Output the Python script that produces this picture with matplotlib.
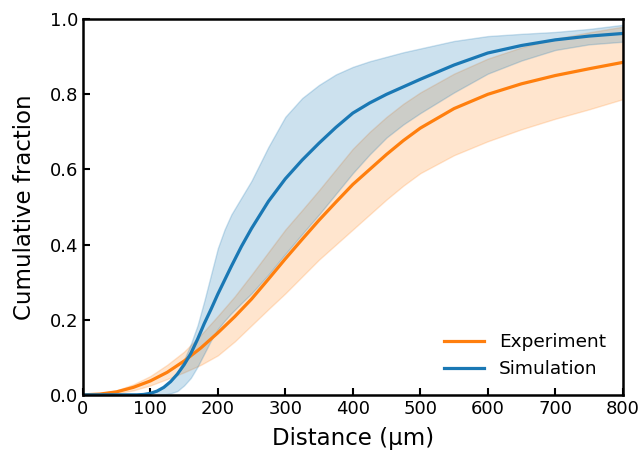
import numpy as np
import matplotlib.pyplot as plt

# Experiment curve and band
exp_x = [0, 25, 50, 75, 100, 125, 150, 175, 200, 225, 250, 275, 300, 325, 350, 375, 400, 425, 450, 475, 500, 550, 600, 650, 700, 750, 800]
exp_y = [0, 0.002, 0.008, 0.02, 0.037, 0.06, 0.09, 0.125, 0.165, 0.208, 0.255, 0.308, 0.362, 0.414, 0.465, 0.513, 0.56, 0.60, 0.64, 0.677, 0.71, 0.762, 0.80, 0.828, 0.85, 0.868, 0.885]
exp_hi = [0, 0.004, 0.012, 0.028, 0.05, 0.08, 0.115, 0.16, 0.21, 0.262, 0.32, 0.38, 0.44, 0.492, 0.545, 0.60, 0.655, 0.70, 0.74, 0.775, 0.805, 0.855, 0.895, 0.925, 0.948, 0.965, 0.98]
exp_lo = [0, 0.001, 0.004, 0.012, 0.025, 0.042, 0.06, 0.08, 0.105, 0.142, 0.185, 0.228, 0.27, 0.315, 0.36, 0.40, 0.44, 0.48, 0.52, 0.557, 0.59, 0.638, 0.675, 0.707, 0.735, 0.76, 0.787]

# Simulation curve and band
sim_x = [0, 80, 90, 100, 110, 120, 130, 140, 150, 160, 170, 180, 190, 200, 210, 220, 235, 250, 275, 300, 325, 350, 375, 400, 425, 450, 475, 500, 550, 600, 650, 700, 750, 800]
sim_y = [0, 0, 0.001, 0.004, 0.01, 0.02, 0.035, 0.055, 0.08, 0.11, 0.148, 0.19, 0.228, 0.268, 0.305, 0.342, 0.395, 0.443, 0.515, 0.575, 0.625, 0.67, 0.712, 0.75, 0.777, 0.80, 0.82, 0.84, 0.878, 0.91, 0.93, 0.945, 0.955, 0.962]
sim_hi = [0, 0, 0.001, 0.004, 0.01, 0.02, 0.036, 0.06, 0.093, 0.135, 0.185, 0.25, 0.32, 0.39, 0.44, 0.48, 0.525, 0.57, 0.66, 0.74, 0.79, 0.825, 0.853, 0.873, 0.888, 0.90, 0.912, 0.922, 0.942, 0.955, 0.961, 0.966, 0.974, 0.985]
sim_lo = [0, 0, 0, 0, 0, 0.001, 0.004, 0.01, 0.025, 0.045, 0.075, 0.11, 0.145, 0.175, 0.197, 0.217, 0.244, 0.27, 0.32, 0.375, 0.428, 0.48, 0.535, 0.59, 0.64, 0.685, 0.72, 0.75, 0.805, 0.855, 0.89, 0.918, 0.933, 0.94]

orange = '#ff7f0e'
blue = '#1a78b4'

fig = plt.figure(figsize=(6.42, 4.57), dpi=100)
ax = fig.add_axes([0.129, 0.136, 0.841, 0.822])

ax.fill_between(exp_x, exp_lo, exp_hi, color=orange, alpha=0.2, linewidth=1)
ax.fill_between(sim_x, sim_lo, sim_hi, color=blue, alpha=0.22, linewidth=1)
ax.plot(exp_x, exp_y, color=orange, lw=2.3, label='Experiment')
ax.plot(sim_x, sim_y, color=blue, lw=2.3, label='Simulation')

ax.set_xlim(0, 800)
ax.set_ylim(0, 1.0)
ax.set_xticks(range(0, 801, 100))
ax.set_yticks([0, 0.2, 0.4, 0.6, 0.8, 1.0])
ax.tick_params(direction='in', length=5, width=1.5, labelsize=13)
for s in ax.spines.values():
    s.set_linewidth(1.8)

ax.set_xlabel('Distance (µm)', fontsize=16.5, labelpad=7)
ax.set_ylabel('Cumulative fraction', fontsize=16.5, labelpad=10)
ax.legend(loc='lower right', frameon=False, fontsize=13.3, handlelength=2.2)

fig.savefig('out.png', dpi=100)
